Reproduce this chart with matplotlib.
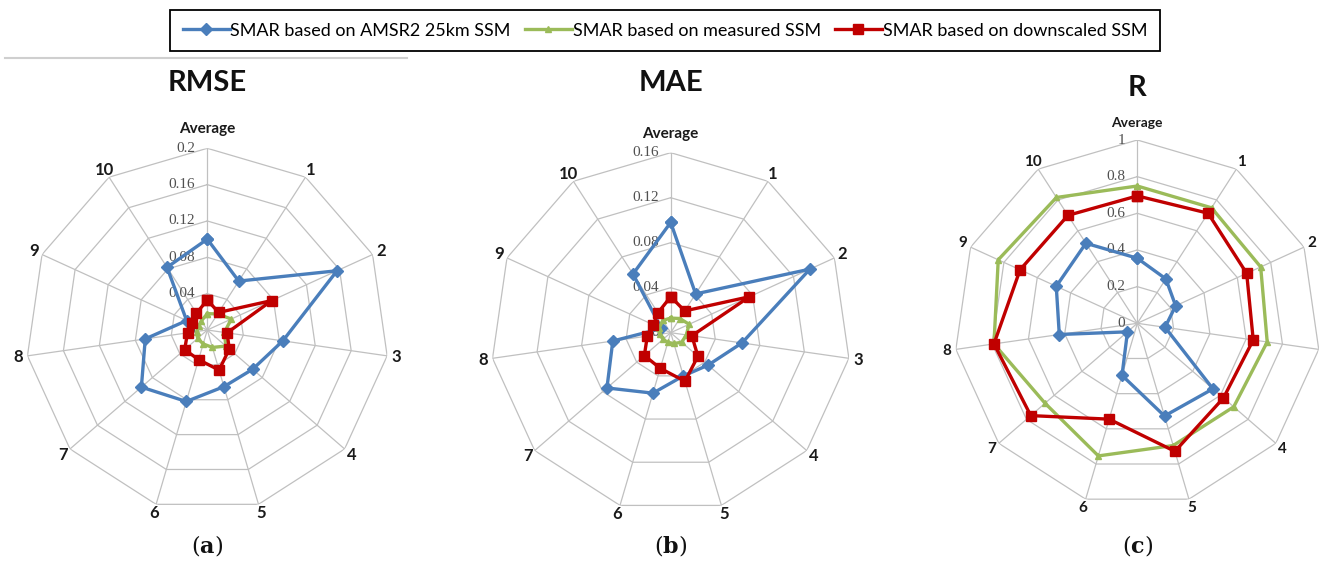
import numpy as np
import matplotlib
matplotlib.use("Agg")
import matplotlib.pyplot as plt
import matplotlib.transforms as mtransforms
from matplotlib.lines import Line2D

plt.rcParams["mathtext.fontset"] = "dejavuserif"

# ---- data -------------------------------------------------------------
categories = ["Average", "1", "2", "3", "4", "5", "6", "7", "8", "9", "10"]
series_names = ["SMAR based on AMSR2 25km SSM",
                "SMAR based on measured SSM",
                "SMAR based on downscaled SSM"]

rmse_amsr2 = [0.100, 0.064, 0.157, 0.084, 0.066, 0.065, 0.082, 0.096, 0.069, 0.025, 0.082]
rmse_measured = [0.018, 0.021, 0.029, 0.019, 0.027, 0.020, 0.016, 0.014, 0.012, 0.010, 0.012]
rmse_downscaled = [0.033, 0.023, 0.078, 0.022, 0.032, 0.046, 0.034, 0.033, 0.022, 0.019, 0.022]

mae_amsr2 = [0.098, 0.041, 0.136, 0.064, 0.044, 0.040, 0.056, 0.075, 0.052, 0.009, 0.062]
mae_measured = [0.013, 0.015, 0.018, 0.014, 0.013, 0.010, 0.009, 0.009, 0.010, 0.011, 0.013]
mae_downscaled = [0.032, 0.023, 0.077, 0.019, 0.032, 0.045, 0.033, 0.031, 0.021, 0.017, 0.021]

r_amsr2 = [0.355, 0.288, 0.230, 0.153, 0.546, 0.527, 0.296, 0.071, 0.430, 0.486, 0.519]
r_measured = [0.749, 0.749, 0.740, 0.716, 0.696, 0.695, 0.754, 0.666, 0.790, 0.834, 0.816]
r_downscaled = [0.695, 0.714, 0.656, 0.639, 0.622, 0.728, 0.545, 0.769, 0.790, 0.703, 0.700]

rmse_ticks = [0, 0.04, 0.08, 0.12, 0.16, 0.2]
rmse_ticklabels = ["0", "0.04", "0.08", "0.12", "0.16", "0.2"]
mae_ticks = [0, 0.04, 0.08, 0.12, 0.16]
mae_ticklabels = ["0", "0.04", "0.08", "0.12", "0.16"]
r_ticks = [0, 0.2, 0.4, 0.6, 0.8, 1.0]
r_ticklabels = ["0", "0.2", "0.4", "0.6", "0.8", "1"]

# ---- styling ----------------------------------------------------------
colors = ["#4A7EBB", "#9BBB59", "#C00000"]
markers = ["D", "^", "s"]
msizes = [6, 5, 6.5]
grid_color = "#c0c0c0"
W, H = 1323, 562

fig = plt.figure(figsize=(W / 100, H / 100), dpi=100)
fig.patch.set_facecolor("white")

theta = np.linspace(0, 2 * np.pi, len(categories), endpoint=False)
theta_c = np.r_[theta, theta[0]]


def radar(cx, cy, rpx, ticks, ticklabels, data, title, title_y, panel,
          cat_size=12, avg_size=11, avg_off=19):
    ax = fig.add_axes([(cx - rpx) / W, (H - cy - rpx) / H, 2 * rpx / W, 2 * rpx / H],
                      projection="polar")
    ax.set_theta_zero_location("N")
    ax.set_theta_direction(-1)
    rmax = ticks[-1]
    ax.set_ylim(0, rmax)
    ax.grid(False)
    ax.set_xticks([])
    ax.set_yticks([])
    ax.spines["polar"].set_visible(False)

    # polygonal web
    for v in ticks[1:]:
        ax.plot(theta_c, [v] * len(theta_c), color=grid_color, lw=0.9, zorder=1)
    for t in theta:
        ax.plot([t, t], [0, rmax], color=grid_color, lw=0.9, zorder=1)

    # value labels along the top spoke
    off = mtransforms.ScaledTranslation(-12 / 100, 0, fig.dpi_scale_trans)
    for v, lab in zip(ticks, ticklabels):
        ax.text(0, v, lab, transform=ax.transData + off, ha="right", va="center",
                fontsize=11, family="Liberation Serif", color="#505050", zorder=2)

    # category labels (those falling past the page edge are left out)
    for t, cat in zip(theta, categories):
        if cat == "Average":
            rr = rmax * (1 + avg_off / rpx)
            fs = avg_size
        else:
            rr = rmax * (1 + 9 / rpx)
            fs = cat_size
        if cx + rpx * (rr / rmax) * np.sin(t) > W:
            continue
        ax.text(t, rr, cat, ha="center", va="center", fontsize=fs,
                fontweight="bold", family="Lato", color="#1a1a1a", clip_on=False)

    # series
    for k, vals in enumerate(data):
        ax.plot(theta_c, np.r_[vals, vals[0]], color=colors[k], lw=2.4,
                marker=markers[k], ms=msizes[k], mec=colors[k], mfc=colors[k],
                zorder=3 + k, clip_on=False)

    fig.text(cx / W, 1 - title_y / H, title, ha="center", va="center",
             fontsize=21, fontweight="bold", family="Lato", color="#111111")
    fig.text(cx / W, 1 - 545 / H, r"$(\mathbf{" + panel + r"})$", ha="center",
             va="center", fontsize=16, color="#111111")
    return ax


radar(207.3, 330.0, 181.7, rmse_ticks, rmse_ticklabels,
      [rmse_amsr2, rmse_measured, rmse_downscaled], "RMSE", 83, "a")
radar(670.7, 332.7, 180.0, mae_ticks, mae_ticklabels,
      [mae_amsr2, mae_measured, mae_downscaled], "MAE", 83, "b")
radar(1137.3, 323.3, 183.3, r_ticks, r_ticklabels,
      [r_amsr2, r_measured, r_downscaled], "R", 88, "c",
      cat_size=11, avg_size=10, avg_off=17)

# legend
handles = [Line2D([], [], color=c, lw=2.4, marker=m, ms=s, mec=c, mfc=c)
           for c, m, s in zip(colors, markers, msizes)]
leg = fig.legend(handles, series_names, loc="center", ncol=3, mode="expand",
                 bbox_to_anchor=(170 / W, 1 - 53 / H, 990 / W, 45 / H),
                 frameon=True, fancybox=False, edgecolor="black", framealpha=1,
                 prop={"family": "Lato", "size": 13}, handlelength=2.6,
                 handletextpad=0.05, borderpad=0.7, borderaxespad=0,
                 columnspacing=0.3)
leg.get_frame().set_linewidth(1.3)

# thin rule under the legend
fig.add_artist(Line2D([5 / W, 407 / W], [1 - 57.5 / H] * 2, color="#cfcfcf", lw=1.5))

fig.savefig("out.png", dpi=100, facecolor="white")
